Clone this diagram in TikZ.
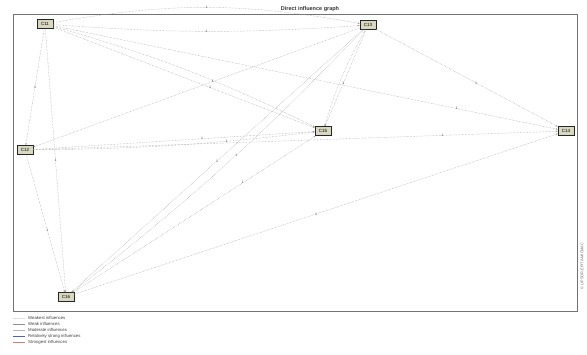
\documentclass[tikz,border=0pt]{standalone}
\usepackage{fontspec}
\setmainfont{Liberation Sans}
\usetikzlibrary{arrows.meta}
\definecolor{boxfill}{HTML}{D8D8C0}
\definecolor{weakestcol}{HTML}{E0E0E0}
\definecolor{weakcol}{HTML}{909090}
\definecolor{moderatecol}{HTML}{B8B8B8}
\definecolor{strongblue}{HTML}{5060C0}
\definecolor{strongred}{HTML}{E07878}
\begin{document}
\begin{tikzpicture}[x=1pt,y=-1pt,>={Stealth[length=2pt,width=1.6pt]},
  factor/.style={draw=black!85,fill=boxfill,line width=0.6pt,inner sep=0.8pt,minimum width=16pt,minimum height=9pt,font=\fontsize{4.5}{5}\selectfont},
  infl/.style={->,densely dotted,draw=black!38,line width=0.45pt},
  lbl/.style={font=\fontsize{3.5}{4}\selectfont,text=black!70,inner sep=0.5pt},
  legline/.style={line width=0.7pt},
  legtext/.style={anchor=west,font=\fontsize{4.3}{5}\selectfont,text=black!75,inner sep=0pt}]
\useasboundingbox (0,0) rectangle (587,354);
\fill[white] (0,0) rectangle (587,354);
\draw[black!55,line width=0.5pt] (13,14) rectangle (577,311);
\node[font=\fontsize{5.5}{6}\selectfont\bfseries,text=black!80] (title) at (310,9) {Direct influence graph};
\node[rotate=90,font=\fontsize{3.8}{4}\selectfont,text=black!60] (mark) at (582,266) {\textcopyright{} LIPSOR-EPITA-MICMAC};
% factors
\node[factor] (c11) at (45,24) {C11};
\node[factor] (c13) at (368,25) {C13};
\node[factor] (c12) at (25,150) {C12};
\node[factor] (c15) at (323,131) {C15};
\node[factor] (c14) at (566,131) {C14};
\node[factor] (c16) at (66,297) {C16};
% influences
\draw[infl] (c11) to[bend left=10] node[lbl]{1} (c13);
\draw[infl] (c11) to[bend right=4] node[lbl,pos=0.5]{1} (c13);
\draw[infl] (c11) -- node[lbl,pos=0.6]{1} (c15);
\draw[infl] (c11) to[bend left=5] (c15);
\draw[infl] (c11) -- node[lbl,pos=0.8]{1} (c14);
\draw[infl] (c11) -- node[lbl]{1} (c12);
\draw[infl] (c11) -- node[lbl,pos=0.5]{1} (c16);
\draw[infl] (c13) -- node[lbl,pos=0.45]{1} (c12);
\draw[infl] (c13) -- node[lbl,pos=0.55]{1} (c15);
\draw[infl] (c13) to[bend right=6] (c15);
\draw[infl] (c13) -- node[lbl,pos=0.5]{1} (c16);
\draw[infl] (c13) to[bend left=4] node[lbl,pos=0.45]{1} (c16);
\draw[infl] (c13) -- node[lbl,pos=0.55]{1} (c14);
\draw[infl] (c12) -- node[lbl,pos=0.6]{1} (c15);
\draw[infl] (c12) to[bend right=3] node[lbl,pos=0.7]{1} (c15);
\draw[infl] (c12) -- node[lbl,pos=0.78]{1} (c14);
\draw[infl] (c12) -- node[lbl,pos=0.55]{1} (c16);
\draw[infl] (c16) -- node[lbl,pos=0.5]{1} (c14);
\draw[infl] (c16) -- node[lbl,pos=0.7]{1} (c15);
% legend
\foreach \i/\col/\txt in {0/weakestcol/Weakest influences,1/weakcol/Weak influences,2/moderatecol/Moderate influences,3/strongblue/Relatively strong influences,4/strongred/Strongest influences}{
  \draw[legline,draw=\col] (13,318+6.2*\i) -- (25,318+6.2*\i);
  \node[legtext] at (28,318+6.2*\i) {\txt};
}
\end{tikzpicture}
\end{document}
